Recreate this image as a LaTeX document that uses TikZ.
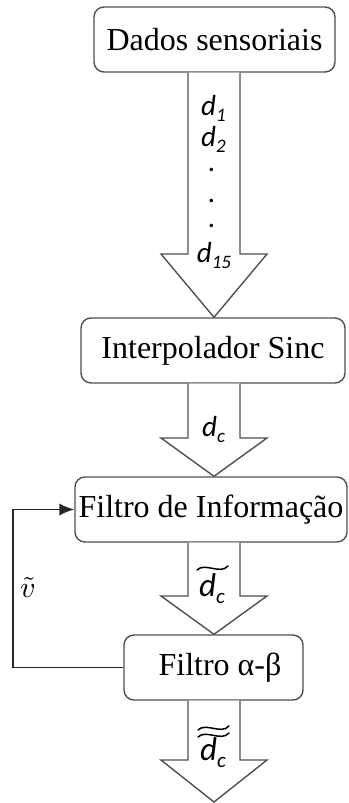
\documentclass[tikz,border=0pt]{standalone}
\usepackage{graphicx}
\usepackage{fontspec}
\setmainfont{Liberation Serif}
\newfontfamily\carl{Carlito}
\usetikzlibrary{arrows.meta,calc}
\definecolor{edge}{RGB}{80,80,80}
\newcommand\lsub[1]{\raisebox{-6pt}{\fontsize{19}{19}\selectfont #1}}
\newcommand\lsubb[1]{\raisebox{-7pt}{\fontsize{21}{21}\selectfont #1}}
\begin{document}
\begin{tikzpicture}[x=1pt,y=-1pt,
  box/.style={draw=edge, line width=1.4pt, rounded corners=10pt, minimum height=65pt, inner sep=0pt, fill=white, font=\fontsize{32}{36}\selectfont},
  barrow/.style={draw=edge, line width=1.4pt, fill=white, line join=miter},
  lab/.style={font=\fontsize{29}{30}\selectfont\carl\itshape, inner sep=0pt},
  labb/.style={font=\fontsize{33}{34}\selectfont\carl\itshape, inner sep=0pt},
  tld/.style={draw=black, line width=1.5pt, line cap=round},
  fbline/.style={draw=black!85, line width=1.4pt, -{Latex[length=15pt,width=12pt]}}]
\useasboundingbox (0,0) rectangle (348,803);
% boxes
\node[box, minimum width=241pt] (b1) at (214.5,39.5) {Dados sensoriais};
\node[box, minimum width=264pt] (b2) at (213,350.5) {Interpolador Sinc};
\node[box, minimum width=272pt] (b3) at (211,509.5) {Filtro de Informação};
\node[box, minimum width=179pt] (b4) at (213.5,667.5) {\hspace{13pt}Filtro α-β};
% helper coordinates
\coordinate (ax) at (214,0);
\coordinate (sl) at (188,0);
\coordinate (sr) at (240,0);
\coordinate (hl) at (161,0);
\coordinate (hr) at (267,0);
\coordinate (e1) at (0,254);
\coordinate (e2) at (0,438);
\coordinate (e3) at (0,596);
\coordinate (e4) at (0,760);
\coordinate (t4) at (214,802);
\coordinate (fb) at (13,0);
% block arrows
\draw[barrow] (b1.south -| sl) -- (e1 -| sl) -- (e1 -| hl) -- (b2.north -| ax) -- (e1 -| hr) -- (e1 -| sr) -- (b1.south -| sr);
\draw[barrow] (b2.south -| sl) -- (e2 -| sl) -- (e2 -| hl) -- (b3.north -| ax) -- (e2 -| hr) -- (e2 -| sr) -- (b2.south -| sr);
\draw[barrow] (b3.south -| sl) -- (e3 -| sl) -- (e3 -| hl) -- (b4.north -| ax) -- (e3 -| hr) -- (e3 -| sr) -- (b3.south -| sr);
\draw[barrow] (b4.south -| sl) -- (e4 -| sl) -- (e4 -| hl) -- (t4) -- (e4 -| hr) -- (e4 -| sr) -- (b4.south -| sr);
% feedback
\draw[fbline] (b4.west) -- (b4.west -| fb) |- (b3.west);
% labels
\node[lab] (l1) at (213.5,108) {d\lsub{1}};
\node[lab] (l2) at (213.5,139) {d\lsub{2}};
\node[lab] (p1) at (212,170) {.};
\node[lab] (p2) at (212,201) {.};
\node[lab] (p3) at (212,226) {.};
\node[lab] (l15) at (214,255) {d\lsub{15}};
\node[lab] (lc) at (213.5,429) {d\lsub{c}};
\node[labb] (lt) at (212,589) {d\lsubb{c}};
\draw[tld] (197,570) .. controls (205,562) and (220,575) .. (228,566);
\node[labb] (ltt) at (213,753) {d\lsubb{c}};
\draw[tld] (198,730) .. controls (206,722) and (221,735) .. (229,726);
\draw[tld] (198,737) .. controls (206,729) and (221,742) .. (229,733);
\node[inner sep=0pt] (v) at (28,587) {\scalebox{3}{$\tilde{v}$}};
\end{tikzpicture}
\end{document}
